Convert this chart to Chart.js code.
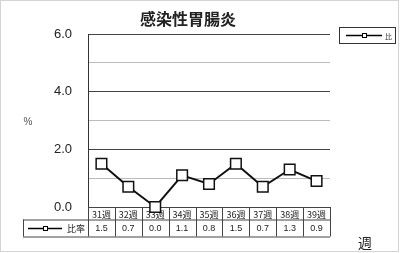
<!DOCTYPE html>
<html><head><meta charset="utf-8">
<script src="https://cdn.jsdelivr.net/npm/chart.js@4/dist/chart.umd.min.js"></script>
<style>html,body{margin:0;padding:0;background:#fff;}canvas{display:block;}</style>
</head><body>
<canvas id="c" width="400" height="253"></canvas>
<script>
const title = '感染性胃腸炎';
const categories = ['31週','32週','33週','34週','35週','36週','37週','38週','39週'];
const seriesName = '比率';
const values = [1.5, 0.7, 0.0, 1.1, 0.8, 1.5, 0.7, 1.3, 0.9];
const yTickLabels = ['0.0','2.0','4.0','6.0'];
const yTitle = '%';
const xTitle = '週';

const JP = '"Noto Sans CJK JP", sans-serif';
const NUM = '"Liberation Sans", Arial, sans-serif';

function drawMarker(ctx, x, y, s) {
  ctx.fillStyle = '#fff';
  ctx.fillRect(x - s/2, y - s/2, s, s);
  ctx.strokeRect(x - s/2, y - s/2, s, s);
}

const tablePlugin = {
  id: 'tablePlugin',
  beforeDatasetsDraw(chart) {
    const ctx = chart.ctx, a = chart.chartArea, xs = chart.scales.x;
    const n = categories.length;
    const colW = (a.right - a.left) / n;
    const r0 = a.bottom, r1 = a.bottom + 12.5, r2 = a.bottom + 29.5;
    const leftCell = 23;
    ctx.save();
    ctx.strokeStyle = '#444'; ctx.lineWidth = 1;
    ctx.beginPath();
    ctx.moveTo(a.left, r0 + 0.5); ctx.lineTo(a.right, r0 + 0.5);
    ctx.moveTo(leftCell, r1 + 0.5); ctx.lineTo(a.right, r1 + 0.5);
    ctx.moveTo(leftCell, r2 + 0.5); ctx.lineTo(a.right, r2 + 0.5);
    ctx.moveTo(leftCell + 0.5, r1); ctx.lineTo(leftCell + 0.5, r2);
    for (let i = 0; i <= n; i++) {
      const x = Math.round(a.left + i * colW) + 0.5;
      ctx.moveTo(x, r0); ctx.lineTo(x, r2);
    }
    ctx.stroke();
    ctx.fillStyle = '#222';
    ctx.textAlign = 'center'; ctx.textBaseline = 'middle';
    for (let i = 0; i < n; i++) {
      const cx = xs.getPixelForValue(i);
      ctx.font = '9px ' + JP;
      ctx.fillText(categories[i], cx, (r0 + r1) / 2 + 1);
      ctx.font = '9px ' + NUM;
      ctx.fillText(values[i].toFixed(1), cx, (r1 + r2) / 2 + 1);
    }
    // legend key in table
    const ky = (r1 + r2) / 2 + 0.5;
    ctx.strokeStyle = '#000'; ctx.lineWidth = 1.5;
    ctx.beginPath(); ctx.moveTo(28, ky); ctx.lineTo(62, ky); ctx.stroke();
    ctx.lineWidth = 1;
    drawMarker(ctx, 45.5, ky, 4);
    ctx.fillStyle = '#222';
    ctx.font = '9px ' + JP; ctx.textAlign = 'left';
    ctx.fillText(seriesName, 67, ky + 0.5);
    ctx.restore();
  },
  afterDraw(chart) {
    const ctx = chart.ctx;
    ctx.save();
    // frame
    ctx.strokeStyle = '#d4d4d4'; ctx.lineWidth = 1;
    ctx.strokeRect(0.5, 0.5, 398, 251);
    // title
    ctx.fillStyle = '#222';
    ctx.font = 'bold 16px ' + JP;
    ctx.textAlign = 'center'; ctx.textBaseline = 'middle';
    ctx.fillText(title, 188, 19);
    // y title
    ctx.font = '10px ' + NUM; ctx.fillStyle = '#555';
    ctx.fillText(yTitle, 28, 122);
    // x title
    ctx.font = '14px ' + JP; ctx.fillStyle = '#222';
    ctx.fillText(xTitle, 365, 243);
    // legend
    ctx.strokeStyle = '#333'; ctx.lineWidth = 1;
    ctx.strokeRect(339.5, 27.5, 56, 16);
    ctx.strokeStyle = '#000'; ctx.lineWidth = 1.5;
    ctx.beginPath(); ctx.moveTo(346, 35.5); ctx.lineTo(382, 35.5); ctx.stroke();
    ctx.lineWidth = 1;
    drawMarker(ctx, 364.5, 35.5, 4);
    ctx.fillStyle = '#333'; ctx.font = '7px ' + JP; ctx.textAlign = 'left';
    ctx.fillText(seriesName.charAt(0), 385, 36);
    ctx.restore();
  }
};

new Chart(document.getElementById('c'), {
  type: 'line',
  data: {
    labels: categories,
    datasets: [{
      label: seriesName,
      data: values,
      borderColor: '#111',
      borderWidth: 2,
      pointStyle: 'rect',
      pointRadius: 7.5,
      pointBorderWidth: 1.5,
      pointBorderColor: '#111',
      pointBackgroundColor: '#fff',
      tension: 0,
      clip: false
    }]
  },
  options: {
    responsive: false,
    animation: false,
    devicePixelRatio: 1,
    layout: { padding: { left: 0, top: 34, right: 70, bottom: 46 } },
    plugins: { legend: { display: false }, title: { display: false }, tooltip: { enabled: false } },
    scales: {
      x: { type: 'category', offset: true, display: false },
      y: {
        min: 0, max: 6,
        afterFit: s => { s.width = 88; },
        ticks: {
          stepSize: 1,
          padding: 16,
          color: '#222',
          font: { family: NUM, size: 13 },
          callback: v => (v % 2 === 0 ? yTickLabels[v / 2] : '')
        },
        grid: {
          drawTicks: false,
          color: c => (c.tick.value === 0 ? 'rgba(0,0,0,0)' : (c.tick.value % 2 === 0 ? '#444' : '#bbb')),
          lineWidth: 1
        },
        border: { display: true, color: '#333', width: 1 }
      }
    }
  },
  plugins: [tablePlugin]
});
</script>
</body></html>
